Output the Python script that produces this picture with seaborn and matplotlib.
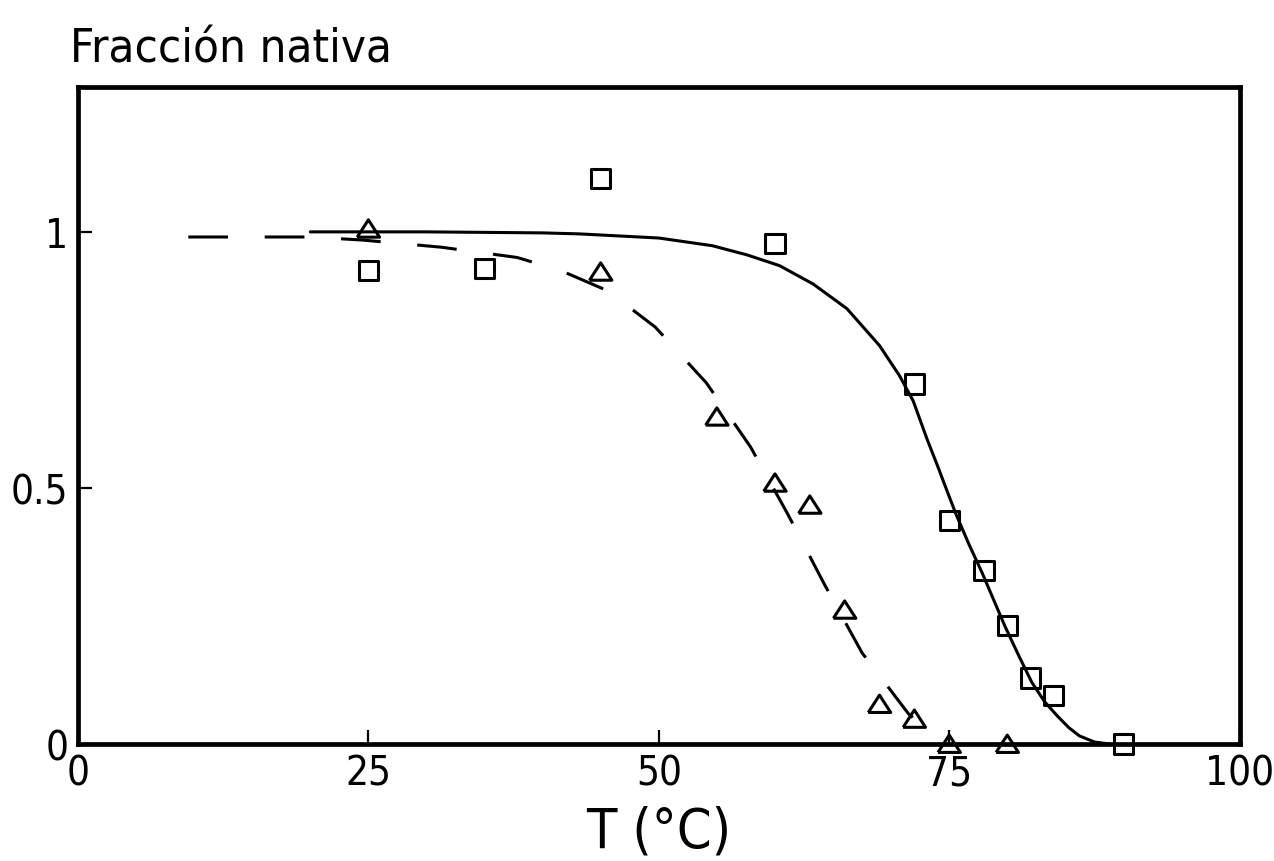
import matplotlib
matplotlib.use("Agg")
import matplotlib.pyplot as plt
import seaborn as sns

# puntos medidos (cuadrados y triángulos)
sq_T = [25, 35, 45, 60, 72, 75, 78, 80, 82, 84, 90]
sq_f = [0.924, 0.928, 1.105, 0.977, 0.703, 0.436, 0.338, 0.232, 0.129, 0.094, 0.0]

tri_T = [25, 45, 55, 60, 63, 66, 69, 72, 75, 80]
tri_f = [1.006, 0.922, 0.639, 0.51, 0.467, 0.262, 0.078, 0.049, 0.0, 0.0]

# curva continua (ajuste de los cuadrados)
fit_sq_T = [20, 30, 40, 43.2, 50, 54.6, 57.6, 60.4, 63.3, 66.2, 69.0, 70.7,
            71.9, 73.1, 74.0, 74.8, 75.6, 76.7, 77.8, 79.8, 81.0, 82.1, 83.2,
            84.3, 85.3, 86.2, 87.5, 88.8]
fit_sq_f = [1.0, 1.0, 0.998, 0.996, 0.988, 0.973, 0.955, 0.934, 0.898, 0.85,
            0.778, 0.72, 0.67, 0.595, 0.543, 0.495, 0.448, 0.39, 0.336, 0.23,
            0.172, 0.121, 0.083, 0.055, 0.032, 0.016, 0.004, 0.0]

# curva discontinua (ajuste de los triangulos)
fit_tri_T = [9.5, 20, 24.5, 31.3, 37.8, 41.5, 45.6, 49.7, 54.1, 57.9, 61.1,
             64.3, 67.5, 71.5, 72.7]
fit_tri_f = [0.99, 0.99, 0.984, 0.97, 0.95, 0.925, 0.885, 0.814, 0.705, 0.58,
             0.449, 0.31, 0.178, 0.059, 0.035]

x_ticks = [0, 25, 50, 75, 100]
x_labels = ["0", "25", "50", "75", "100"]
y_ticks = [0, 0.5, 1]
y_labels = ["0", "0.5", "1"]

sns.set_style("ticks")
plt.rcParams["font.family"] = ["DejaVu Sans"]
plt.rcParams["font.stretch"] = "condensed"
plt.rcParams["text.color"] = "black"
plt.rcParams["axes.labelcolor"] = "black"

fig = plt.figure(figsize=(12.74, 8.62), dpi=100)
ax = fig.add_axes([0.0612, 0.1357, 0.9118, 0.7623])

sns.lineplot(x=fit_sq_T, y=fit_sq_f, ax=ax, color="black", lw=2.2, sort=False)
sns.lineplot(x=fit_tri_T, y=fit_tri_f, ax=ax, color="black", lw=2.2, sort=False)
ax.lines[-1].set_dashes((13, 12))

tri_marker = [(-1, -0.75), (1, -0.75), (0, 0.8), (-1, -0.75)]
sns.scatterplot(x=sq_T, y=sq_f, ax=ax, marker="s", s=190, facecolor="none",
                edgecolor="black", linewidth=2.2, clip_on=False, zorder=3)
sns.scatterplot(x=tri_T, y=tri_f, ax=ax, marker=tri_marker, s=260,
                facecolor="none", edgecolor="black", linewidth=2.2,
                clip_on=False, zorder=3)

ax.set_xlim(0, 100)
ax.set_ylim(0, 1.283)
ax.set_xticks(x_ticks)
ax.set_xticklabels(x_labels)
ax.set_yticks(y_ticks)
ax.set_yticklabels(y_labels)
ax.tick_params(direction="in", length=10, width=1.6, labelsize=29, pad=7,
               color="black", labelcolor="black")

for sp in ax.spines.values():
    sp.set_visible(True)
    sp.set_linewidth(3.4)
    sp.set_color("black")

ax.set_xlabel("T (°C)", fontsize=40, labelpad=8)
ax.set_ylabel("")
fig.text(0.055, 0.928, "Fracción nativa", fontsize=34, ha="left", va="baseline")

fig.savefig("out.png", dpi=100)
